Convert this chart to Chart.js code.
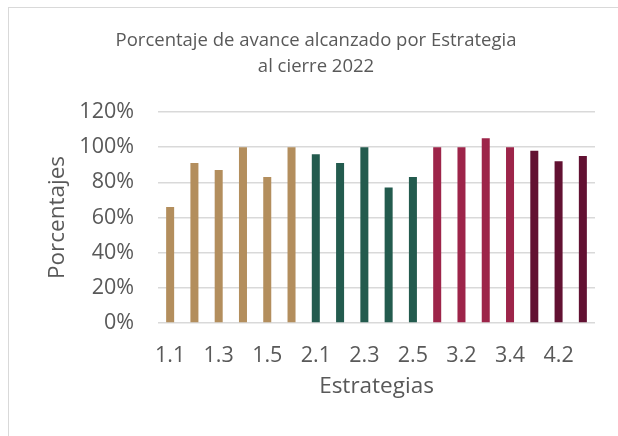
<!DOCTYPE html>
<html>
<head>
<meta charset="utf-8">
<script src="https://cdn.jsdelivr.net/npm/chart.js@4"></script>
<style>
    html, body { margin: 0; padding: 0; background: #fff; }
    .wrap { position: relative; width: 618px; height: 436px; overflow: hidden; }
    .frame { position: absolute; left: 8px; top: 7px; width: 700px; height: 500px; border: 1px solid #d9d9d9; }
    canvas { position: absolute; left: 0; top: 0; }
</style>
</head>
<body>
<div class="wrap">
    <div class="frame"></div>
    <canvas id="chart" width="618" height="436"></canvas>
</div>
<script>
// 数据
const categories = ['1.1', '1.2', '1.3', '1.4', '1.5', '1.6', '2.1', '2.2', '2.3', '2.4', '2.5', '3.1', '3.2', '3.3', '3.4', '4.1', '4.2', '4.3'];
const values = [66, 91, 87, 100, 83, 100, 96, 91, 100, 77, 83, 100, 100, 105, 100, 98, 92, 95];
const yTicks = [0, 20, 40, 60, 80, 100, 120];

// 每个策略组的颜色
const groupColors = {
    '1': '#B38E5D',
    '2': '#235B4E',
    '3': '#9D2449',
    '4': '#621132'
};

const textColor = '#595959';
const fontFamily = "'Open Sans', sans-serif";

new Chart(document.getElementById('chart'), {
    type: 'bar',
    data: {
        labels: categories,
        datasets: [{
            data: values,
            backgroundColor: categories.map(c => groupColors[c.split('.')[0]]),
            barPercentage: 0.33,
            categoryPercentage: 1
        }]
    },
    options: {
        responsive: false,
        animation: false,
        layout: { padding: { left: 37, right: 23, top: 0, bottom: 0 } },
        plugins: {
            legend: { display: false },
            tooltip: { enabled: false },
            title: {
                display: true,
                text: ['Porcentaje de avance alcanzado por Estrategia', 'al cierre 2022'],
                color: textColor,
                font: { family: fontFamily, size: 18.5, weight: 'normal', lineHeight: 1.405 },
                padding: { top: 28, bottom: 32 }
            }
        },
        scales: {
            x: {
                grid: { display: false },
                border: { display: false },
                ticks: {
                    autoSkip: false,
                    maxRotation: 0,
                    padding: 12,
                    color: textColor,
                    font: { family: fontFamily, size: 21.5 },
                    callback: (v, i) => i % 2 === 0 ? categories[i] : ''
                },
                title: {
                    display: true,
                    text: 'Estrategias',
                    color: textColor,
                    font: { family: fontFamily, size: 22.5 },
                    padding: { top: 0, bottom: 36 }
                },
                afterFit: scale => { scale.height = 113; }
            },
            y: {
                min: 0,
                max: 120,
                afterBuildTicks: scale => { scale.ticks = yTicks.map(v => ({ value: v })); },
                grid: { color: '#d9d9d9', lineWidth: 1.5, drawTicks: false },
                border: { display: false },
                ticks: {
                    padding: 24,
                    color: textColor,
                    font: { family: fontFamily, size: 21.5 },
                    callback: v => v + '%'
                },
                title: {
                    display: true,
                    text: 'Porcentajes',
                    color: textColor,
                    font: { family: fontFamily, size: 22.5 },
                    padding: { top: 7, bottom: 0 }
                },
                afterFit: scale => { scale.width = 121; }
            }
        }
    }
});
</script>
</body>
</html>
